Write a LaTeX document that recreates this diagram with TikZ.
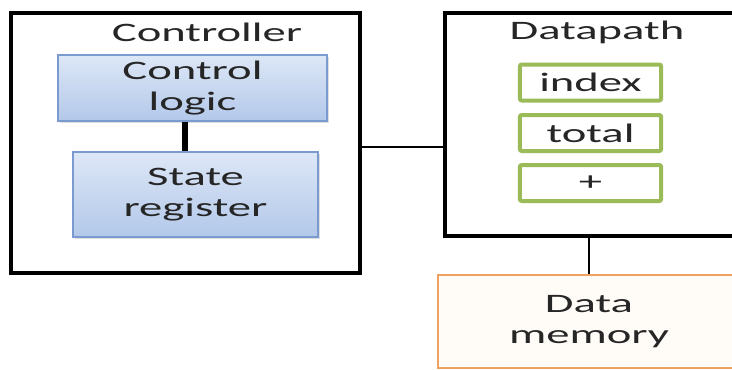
\documentclass[tikz,border=0pt]{standalone}
\usepackage{fontspec}
\setmainfont{Carlito}[FakeStretch=1.75]
\usepackage{tikz}
\usetikzlibrary{positioning,shadows}
\definecolor{blueedge}{HTML}{7B9BD0}
\definecolor{bluetop}{HTML}{DDE7F6}
\definecolor{bluebot}{HTML}{B3C8EA}
\definecolor{regedge}{HTML}{9BBB59}
\definecolor{memedge}{HTML}{EDA262}
\definecolor{memfill}{HTML}{FFFBF7}
\definecolor{ink}{HTML}{262626}

\begin{document}
\begin{tikzpicture}[x=0.75pt, y=-0.75pt,
  every node/.style={font=\fontsize{20}{23}\selectfont, text=ink, align=center, inner sep=0pt},
  frame/.style={draw=black, line width=2.8pt},
  logicbox/.style={draw=blueedge, line width=1.4pt, top color=bluetop, bottom color=bluebot,
    drop shadow={opacity=0.25, shadow xshift=1.5pt, shadow yshift=-1.5pt}},
  regbox/.style={draw=regedge, line width=3pt, fill=white, rounded corners=1.5pt,
    minimum width=106pt, minimum height=27pt},
  membox/.style={draw=memedge, line width=2pt, fill=memfill},
  wire/.style={line width=1.6pt},
  bus/.style={line width=4pt}]
  \useasboundingbox (0,0) rectangle (732,369);
  \clip (0,0) rectangle (732,369);

  % Controller side
  \node[frame, minimum width=261.75pt, minimum height=195pt] (controller) at (185.5,143) {};
  \node (ctrltitle) at (207,32) {Controller};
  \node[logicbox, minimum width=201.75pt, minimum height=49.5pt] (logic) at (192.5,88) {Control\\logic};
  \node[logicbox, minimum width=183.75pt, minimum height=63.75pt] (state) at (195.5,194.5) {State\\register};
  \draw[bus] ([xshift=-5.6pt]logic.south) -- ([xshift=-5.6pt]logic.south |- state.north);

  % Datapath side
  \node[frame, minimum width=221.25pt, minimum height=167.25pt] (datapath) at (592.5,124.5) {};
  \node (dptitle) at (597,32) {Datapath};
  \node[regbox] (index) at (590.5,82.5) {index};
  \node[regbox] (total) at (590.5,133) {total};
  \node[regbox] (adder) at (590.5,183) {+};

  % Memory
  \node[membox, minimum width=226.5pt, minimum height=69.75pt] (memory) at (589,321.5) {Data\\memory};

  % Links
  \draw[wire] ([yshift=-3pt]controller.east) -- ([yshift=-3pt]controller.east -| datapath.west);
  \draw[wire] (memory.north) -- (memory.north |- datapath.south);
\end{tikzpicture}
\end{document}
